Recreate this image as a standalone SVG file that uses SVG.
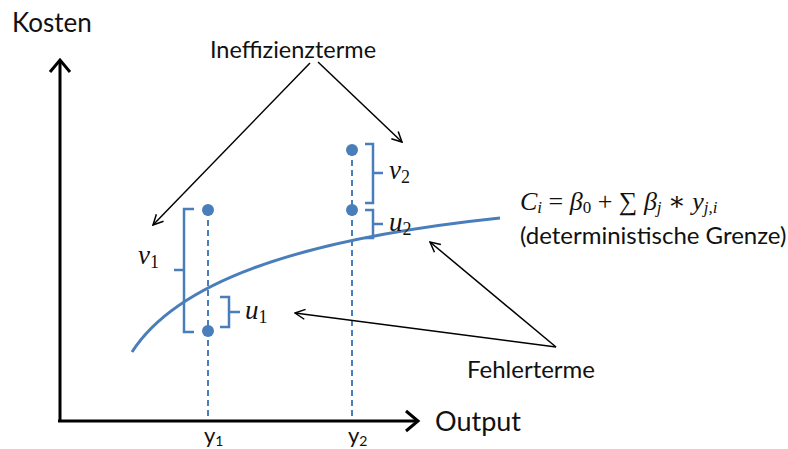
<svg xmlns="http://www.w3.org/2000/svg" width="788" height="449" viewBox="0 0 788 449">
<defs>
<style>
.sans{font-family:Lato,"Open Sans","Liberation Sans",sans-serif;fill:#111}
.math{font-family:"Liberation Serif","DejaVu Serif",serif;font-style:italic;fill:#111}
.up{font-style:normal}
.axis{stroke:#000;stroke-width:3;fill:none}
.ptr{stroke:#000;stroke-width:1.5;fill:none}
.blue{stroke:#4a7ebb;fill:none}
.dash{stroke:#4a7ebb;stroke-width:2;stroke-dasharray:6,4;fill:none}
.br{stroke:#4a7ebb;stroke-width:2.5;fill:none}
.dot{fill:#4a7ebb}
</style>
<marker id="ah" markerWidth="12" markerHeight="12" viewBox="0 0 12 12" refX="11" refY="6" orient="auto" markerUnits="userSpaceOnUse">
<path d="M1,1 L11,6 L1,11" stroke="#000" stroke-width="1.5" fill="none"/>
</marker>
<marker id="ax" markerWidth="24" markerHeight="24" viewBox="0 0 24 24" refX="20" refY="12" orient="auto" markerUnits="userSpaceOnUse">
<path d="M8,2 L20,12 L8,22" stroke="#000" stroke-width="3" fill="none"/>
</marker>
</defs>

<g id="axes">
<path class="axis" d="M60,421 L60,60" marker-end="url(#ax)"/>
<path class="axis" d="M58,421 L418,421" marker-end="url(#ax)"/>
<text class="sans" x="12" y="32" font-size="26">Kosten</text>
<text class="sans" x="435" y="431" font-size="27">Output</text>
<text class="sans" x="204" y="443" font-size="22">y<tspan font-size="14" dy="3">1</tspan></text>
<text class="sans" x="348" y="443" font-size="22">y<tspan font-size="14" dy="3">2</tspan></text>
</g>

<g id="frontier">
<path class="blue" stroke-width="3" d="M132,352 C175,285 290,240 500,218"/>
<text class="math" x="520" y="210" font-size="26">C<tspan font-size="17" dy="3">i</tspan><tspan dy="-3" class="up"> = </tspan>β<tspan class="up" font-size="17" dy="3">0</tspan><tspan dy="-3" class="up"> + ∑ </tspan>β<tspan font-size="17" dy="3">j</tspan><tspan dy="-3" class="up"> ∗ </tspan>y<tspan font-size="17" dy="3">j,i</tspan></text>
<text class="sans" x="520" y="244" font-size="24">(deterministische Grenze)</text>
</g>

<g id="obs1">
<line class="dash" x1="208" y1="210" x2="208" y2="420"/>
<circle class="dot" cx="208" cy="210" r="6"/>
<circle class="dot" cx="208" cy="331" r="6"/>
<path class="br" d="M194,209 L184,209 L184,332 L194,332 M184,270 L174,270"/>
<text class="math" x="138" y="264" font-size="27">v<tspan class="up" font-size="18" dy="4">1</tspan></text>
<path class="br" d="M220,297 L229,297 L229,327 L220,327 M229,312 L240,312"/>
<text class="math" x="245" y="319" font-size="27">u<tspan class="up" font-size="18" dy="4">1</tspan></text>
</g>

<g id="obs2">
<line class="dash" x1="352" y1="150" x2="352" y2="420"/>
<circle class="dot" cx="352" cy="150" r="6"/>
<circle class="dot" cx="352" cy="210" r="6"/>
<path class="br" d="M365,144 L373,144 L373,203 L365,203 M373,173 L383,173"/>
<text class="math" x="389" y="179" font-size="27">v<tspan class="up" font-size="18" dy="4">2</tspan></text>
<path class="br" d="M365,210 L373,210 L373,238 L365,238 M373,224 L383,224"/>
<text class="math" x="389" y="231" font-size="27">u<tspan class="up" font-size="18" dy="4">2</tspan></text>
</g>

<g id="ineff">
<text class="sans" x="293" y="58" font-size="23.5" text-anchor="middle">Ineffizienzterme</text>
</g>
<g id="fehler">
<text class="sans" x="531" y="378" font-size="24" text-anchor="middle">Fehlerterme</text>
</g>

<g id="connectors">
<line class="ptr" x1="310" y1="63" x2="153" y2="225" marker-end="url(#ah)"/>
<line class="ptr" x1="318" y1="62" x2="402" y2="142" marker-end="url(#ah)"/>
<line class="ptr" x1="556" y1="347" x2="295" y2="313" marker-end="url(#ah)"/>
<line class="ptr" x1="556" y1="347" x2="430" y2="242" marker-end="url(#ah)"/>
</g>
</svg>
